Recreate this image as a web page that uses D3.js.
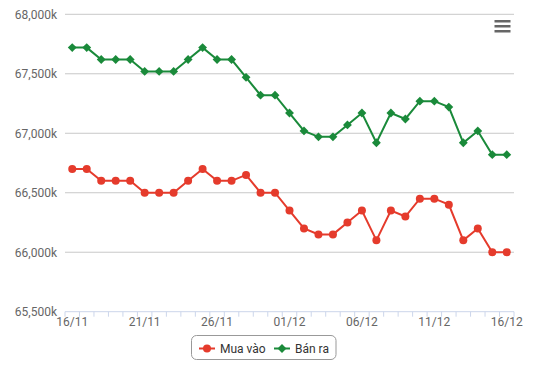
<!DOCTYPE html>
<html>
<head>
<meta charset="utf-8">
<script src="https://cdn.jsdelivr.net/npm/d3@7"></script>
<style>
  body { margin: 0; background: #fff; }
  svg { font-family: Roboto, "Open Sans", sans-serif; }
</style>
</head>
<body>
<div id="chart"></div>
<script>
// data
const days = ["16/11","17/11","18/11","19/11","20/11","21/11","22/11","23/11","24/11","25/11",
  "26/11","27/11","28/11","29/11","30/11","01/12","02/12","03/12","04/12","05/12",
  "06/12","07/12","08/12","09/12","10/12","11/12","12/12","13/12","14/12","15/12","16/12"];
const muaVao = [66700,66700,66600,66600,66600,66500,66500,66500,66600,66700,
  66600,66600,66650,66500,66500,66350,66200,66150,66150,66250,
  66350,66100,66350,66300,66450,66450,66400,66100,66200,66000,66000];
const banRa = [67720,67720,67620,67620,67620,67520,67520,67520,67620,67720,
  67620,67620,67470,67320,67320,67170,67020,66970,66970,67070,
  67170,66920,67170,67120,67270,67270,67220,66920,67020,66820,66820];
const yTicks = [65500,66000,66500,67000,67500,68000];

const width = 547, height = 383;
const plotLeft = 65, plotRight = 514, plotTop = 14.3, plotBottom = 311.7;

const svg = d3.select("#chart").append("svg")
  .attr("width", width)
  .attr("height", height);

const x = d3.scaleBand().domain(days).range([plotLeft, plotRight]);
const y = d3.scaleLinear().domain([65500, 68000]).range([plotBottom, plotTop]);
const cx = d => x(d) + x.bandwidth() / 2;

// grid lines
svg.append("g")
  .selectAll("line")
  .data(yTicks.slice(1))
  .enter().append("line")
  .attr("x1", plotLeft).attr("x2", plotRight)
  .attr("y1", d => y(d)).attr("y2", d => y(d))
  .attr("stroke", "#c8c8c8")
  .attr("stroke-width", 1);

// y labels
svg.append("g")
  .selectAll("text")
  .data(yTicks)
  .enter().append("text")
  .attr("x", 57)
  .attr("y", d => y(d) + 4.5)
  .attr("text-anchor", "end")
  .attr("fill", "#666")
  .style("font-size", "12px")
  .text(d => d3.format(",")(d) + "k");

// x axis
const xAxis = svg.append("g")
  .attr("transform", "translate(0," + plotBottom + ")");
xAxis.append("line")
  .attr("x1", plotLeft).attr("x2", plotRight)
  .attr("stroke", "#ccd6eb");
xAxis.selectAll(".tick")
  .data(days.concat(["end"]))
  .enter().append("line")
  .attr("x1", (d, i) => i < days.length ? x(d) : plotRight)
  .attr("x2", (d, i) => i < days.length ? x(d) : plotRight)
  .attr("y1", 0).attr("y2", 5)
  .attr("stroke", "#ccd6eb");
xAxis.selectAll("text")
  .data(days.filter((d, i) => i % 5 === 0))
  .enter().append("text")
  .attr("x", d => cx(d))
  .attr("y", 14)
  .attr("text-anchor", "middle")
  .attr("fill", "#666")
  .style("font-size", "12px")
  .text(d => d);

const red = "#e53b2c", green = "#1a8a3a";

const line = d3.line()
  .x((d, i) => cx(days[i]))
  .y(d => y(d));

// Mua vào
svg.append("path")
  .datum(muaVao)
  .attr("d", line)
  .attr("fill", "none")
  .attr("stroke", red)
  .attr("stroke-width", 2);
svg.append("g")
  .selectAll("circle")
  .data(muaVao)
  .enter().append("circle")
  .attr("cx", (d, i) => cx(days[i]))
  .attr("cy", d => y(d))
  .attr("r", 4)
  .attr("fill", red);

// Bán ra
svg.append("path")
  .datum(banRa)
  .attr("d", line)
  .attr("fill", "none")
  .attr("stroke", green)
  .attr("stroke-width", 2);
const diamond = d3.symbol().type(d3.symbolDiamond2).size(50);
svg.append("g")
  .selectAll("path")
  .data(banRa)
  .enter().append("path")
  .attr("d", diamond)
  .attr("transform", (d, i) => "translate(" + cx(days[i]) + "," + y(d) + ")")
  .attr("fill", green);

// legend
const lg = svg.append("g");
lg.append("rect")
  .attr("x", 191.5).attr("y", 335.5)
  .attr("width", 144.5).attr("height", 24)
  .attr("rx", 5)
  .attr("fill", "#fff")
  .attr("stroke", "#999");
lg.append("line").attr("x1", 199).attr("x2", 215).attr("y1", 348.5).attr("y2", 348.5)
  .attr("stroke", red).attr("stroke-width", 2);
lg.append("circle").attr("cx", 207).attr("cy", 348.5).attr("r", 4).attr("fill", red);
lg.append("text").attr("x", 220).attr("y", 352.5).attr("fill", "#333")
  .style("font-size", "12px").text("Mua vào");
lg.append("line").attr("x1", 274).attr("x2", 290).attr("y1", 348.5).attr("y2", 348.5)
  .attr("stroke", green).attr("stroke-width", 2);
lg.append("path").attr("d", diamond).attr("transform", "translate(282,348.5)").attr("fill", green);
lg.append("text").attr("x", 295).attr("y", 352.5).attr("fill", "#333")
  .style("font-size", "12px").text("Bán ra");

// menu icon
svg.append("g")
  .selectAll("rect")
  .data([0, 1, 2])
  .enter().append("rect")
  .attr("x", 494.5).attr("y", d => 20 + d * 5)
  .attr("width", 16).attr("height", 2.5)
  .attr("fill", "#666");
</script>
</body>
</html>
